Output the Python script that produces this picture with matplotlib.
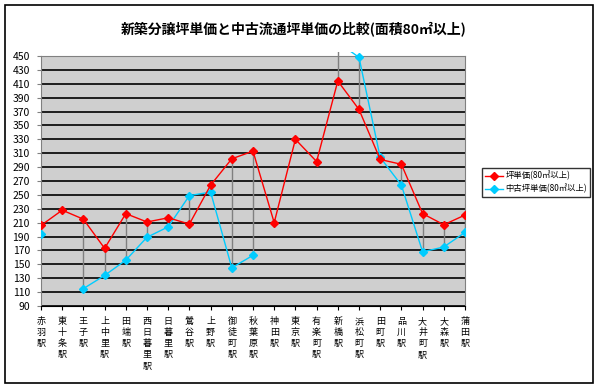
import matplotlib
matplotlib.use("Agg")
import matplotlib.pyplot as plt
from matplotlib.patches import Rectangle
import numpy as np

plt.rcParams['font.family'] = ['Noto Sans CJK JP', 'DejaVu Sans']

# 駅名
stations = ["赤羽駅", "東十条駅", "王子駅", "上中里駅", "田端駅", "西日暮里駅", "日暮里駅",
            "鶯谷駅", "上野駅", "御徒町駅", "秋葉原駅", "神田駅", "東京駅", "有楽町駅",
            "新橋駅", "浜松町駅", "田町駅", "品川駅", "大井町駅", "大森駅", "蒲田駅"]
# 新築分譲坪単価
new_price = [206, 228, 215, 173, 223, 211, 217, 208, 264, 302, 313, 210, 330, 298,
             414, 373, 301, 294, 223, 207, 221]
# 中古流通坪単価 (nan = データなし)
used_price = [194, np.nan, 115, 134, 156, 189, 204, 249, 254, 145, 163, np.nan, np.nan, np.nan,
              470, 448, 304, 264, 168, 175, 196]
y_ticks = list(range(90, 451, 20))

title = "新築分譲坪単価と中古流通坪単価の比較(面積80㎡以上)"
label_new = "坪単価(80㎡以上)"
label_used = "中古坪単価(80㎡以上)"

fig = plt.figure(figsize=(5.99, 3.89), dpi=100)
ax = fig.add_axes([41 / 599, 1 - 306 / 389, 424 / 599, 250 / 389])
ax.set_facecolor("#cfcfcf")

x = np.arange(len(stations))
red = np.array(new_price, dtype=float)
blue = np.array(used_price, dtype=float)

# 少しだけ上にはみ出すクリップ領域
clip = Rectangle((0, 0), 1, 1.016, transform=ax.transAxes, facecolor="none", edgecolor="none")
ax.add_patch(clip)

# ドロップライン
both = ~np.isnan(blue)
dl = ax.vlines(x[both], np.minimum(red, blue)[both], np.maximum(red, blue)[both],
               color="#808080", lw=1, zorder=2)
dl.set_clip_path(clip)

l1, = ax.plot(x, red, color="#ff0000", lw=1, marker="D", ms=4, label=label_new, zorder=4)
l2, = ax.plot(x, blue, color="#00ccff", lw=1, marker="D", ms=4, label=label_used, zorder=3)
l1.set_clip_path(clip)
l2.set_clip_path(clip)

ax.set_xlim(0, len(stations) - 1)
ax.set_ylim(90, 450)
ax.set_yticks(y_ticks)
ax.set_yticklabels([str(v) for v in y_ticks], fontsize=7.5)
ax.yaxis.grid(True, color="black", lw=1.2, zorder=1)
ax.set_axisbelow(True)

ax.set_xticks(x)
ax.set_xticklabels(["\n".join(s) for s in stations], fontsize=6.5, linespacing=1.3,
                   va="top")
ax.tick_params(axis="x", length=3, direction="out", color="black", pad=5)
ax.tick_params(axis="y", length=3, direction="out", color="#808080", pad=5)

for side in ["left", "top", "right"]:
    ax.spines[side].set_color("#808080")
ax.spines["bottom"].set_color("black")

fig.text(0.49, 1 - 29 / 389, title, ha="center", va="center", fontsize=10, fontweight="bold")

leg = fig.legend(handles=[l1, l2], loc="upper left", bbox_to_anchor=(482 / 599, 1 - 168 / 389),
                 fontsize=6, frameon=True, fancybox=False, edgecolor="black",
                 handlelength=2.2, borderpad=0.35, labelspacing=0.45, handletextpad=0.3,
                 borderaxespad=0)
leg.get_frame().set_linewidth(1)

# 外枠
fig.add_artist(Rectangle((5 / 599, 1 - 383 / 389), 588 / 599, 378 / 389, transform=fig.transFigure,
                         fill=False, edgecolor="black", lw=1.2))

fig.savefig("out.png", dpi=100)
